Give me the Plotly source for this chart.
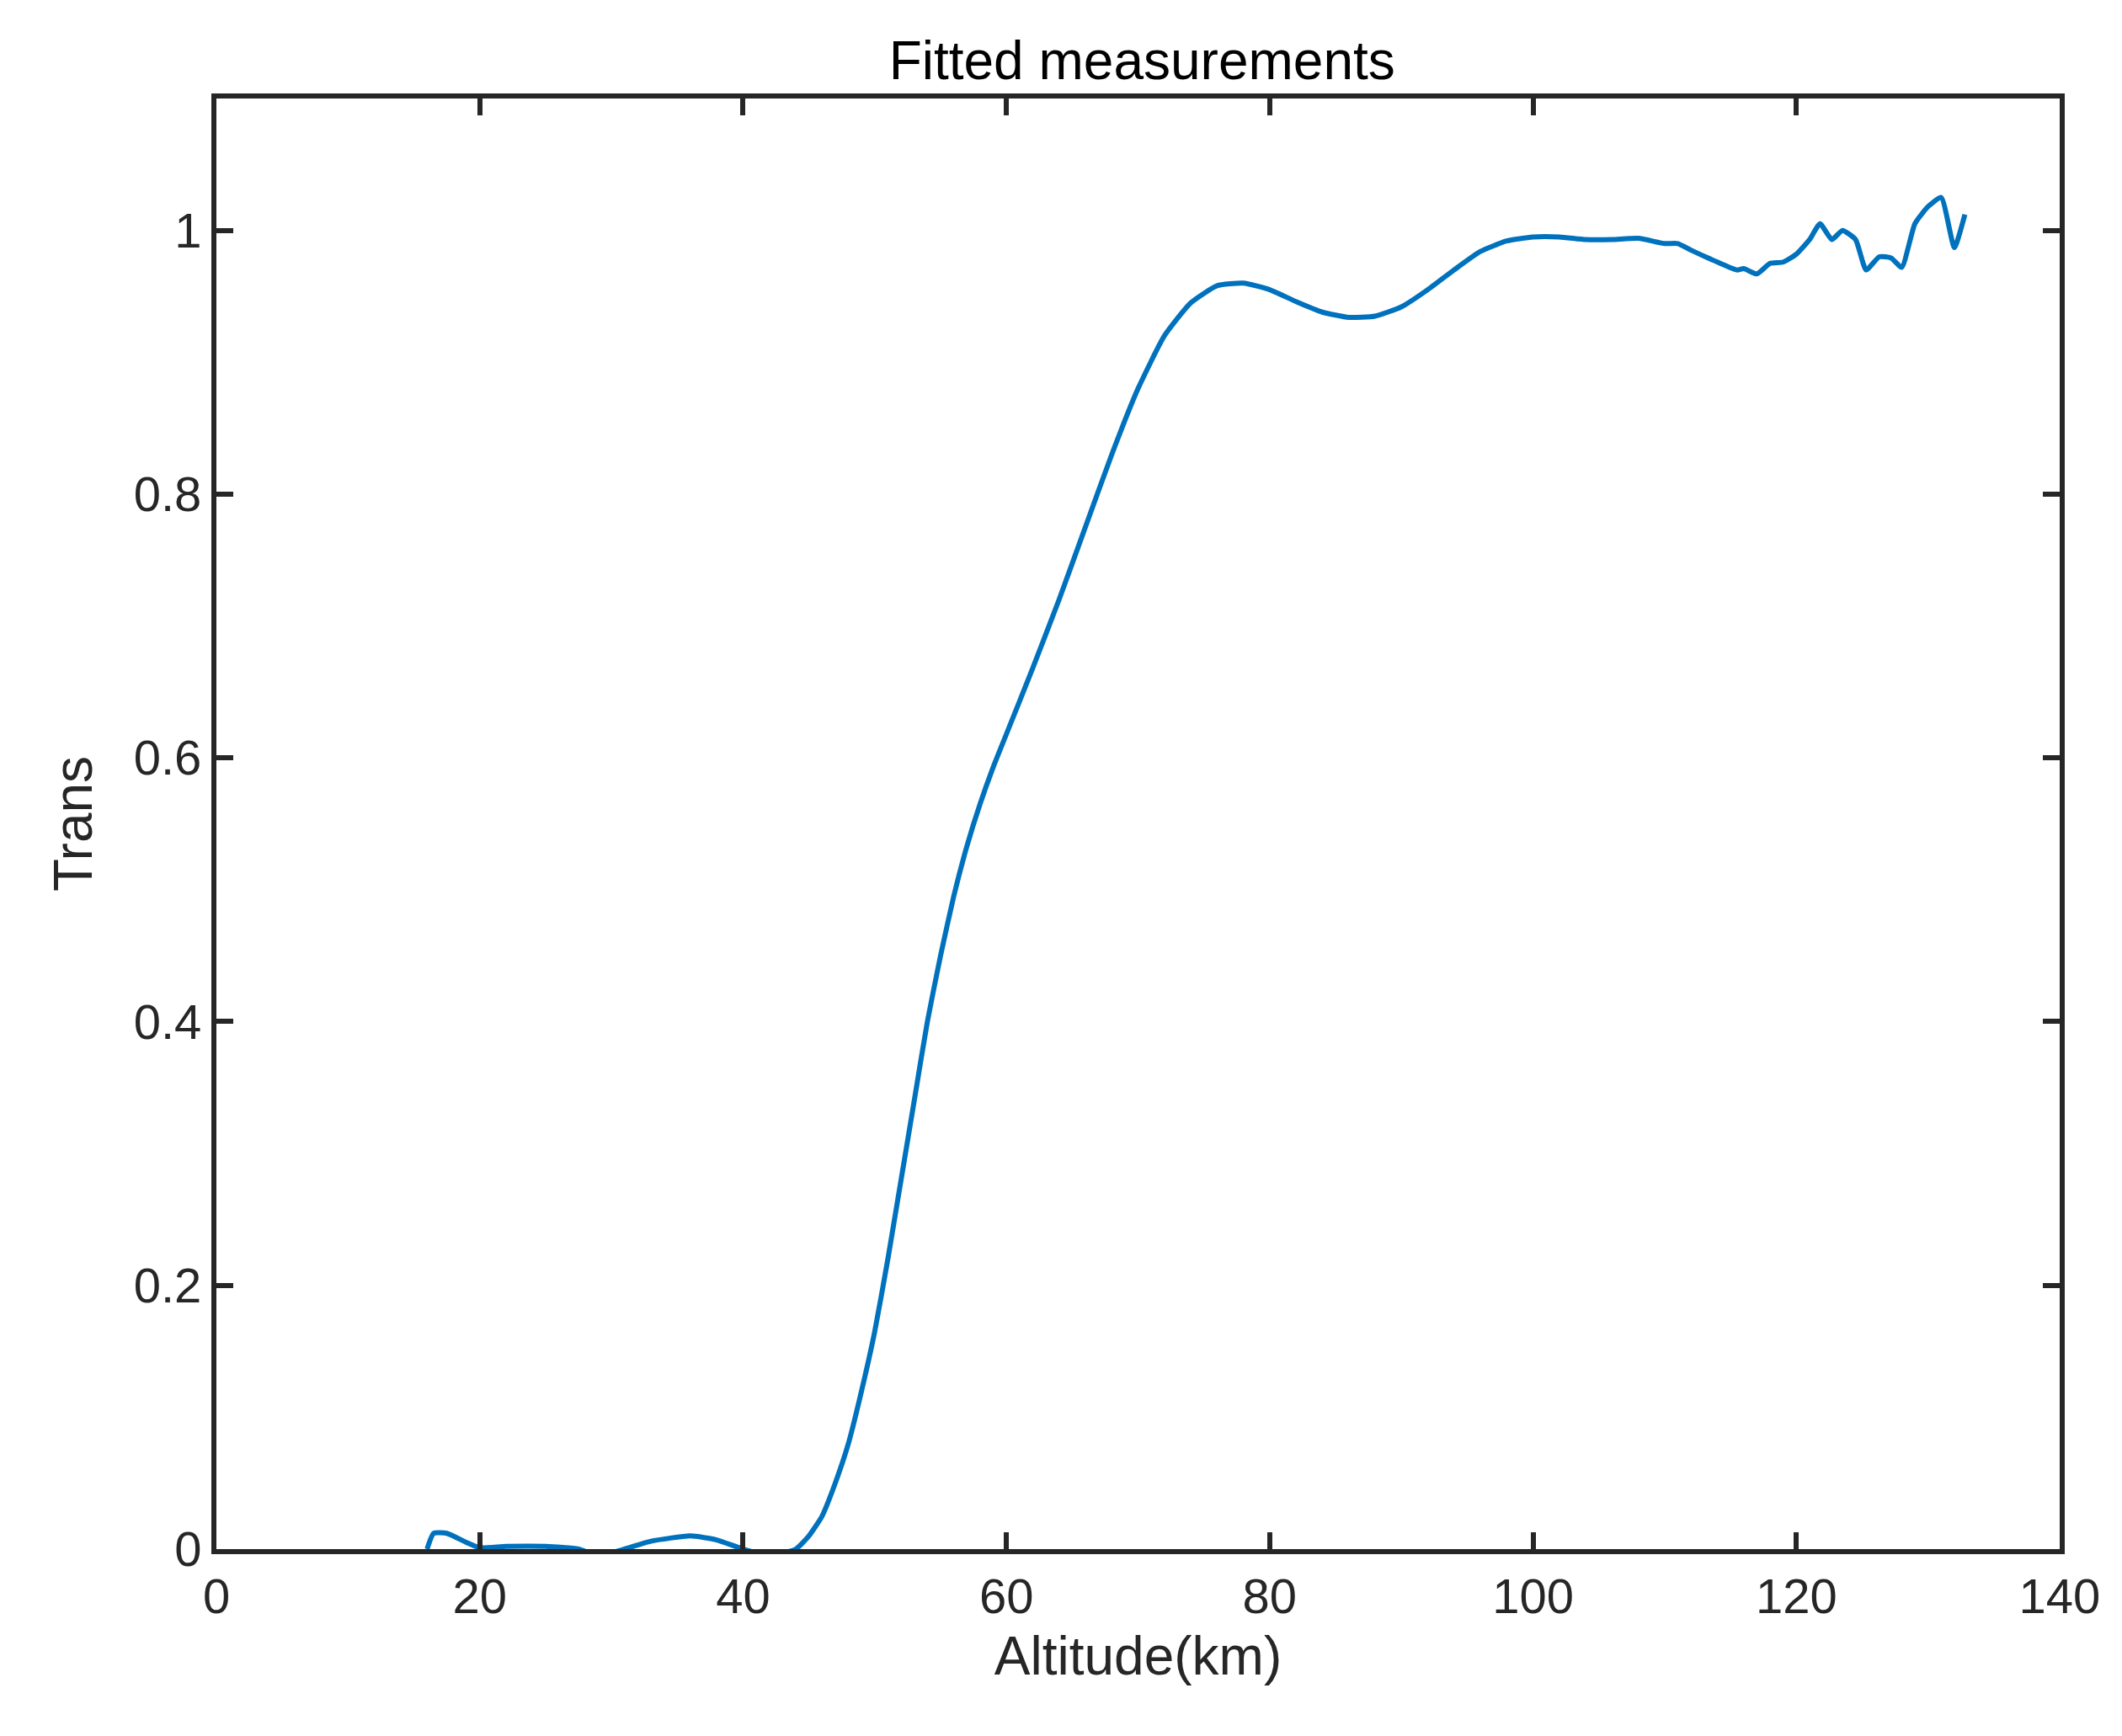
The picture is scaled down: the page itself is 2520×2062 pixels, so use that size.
import plotly.graph_objects as go

altitude = [16, 16.5, 17.5, 19, 20, 22, 25, 27.5, 29, 31, 33, 36, 38, 40, 42, 44, 45, 46, 47, 48, 49, 50, 51, 52, 53, 54, 55, 56, 57, 58, 59, 60, 62, 64, 66, 68, 70, 72, 74, 76, 78, 80, 82, 84, 86, 88, 90, 92, 94, 96, 98, 100, 102, 104, 106, 108, 110, 111, 112, 114, 115.5, 116, 117, 118, 119, 120, 121, 121.8, 122.7, 123.5, 124.5, 125.3, 126.3, 127.2, 128, 129, 130, 131, 132, 132.8]
trans = [0, 0.012, 0.012, 0.005, 0.001, 0.002, 0.002, 0, -0.005, 0, 0.006, 0.01, 0.007, 0, -0.005, 0, 0.01, 0.025, 0.05, 0.08, 0.12, 0.165, 0.22, 0.28, 0.34, 0.4, 0.45, 0.495, 0.533, 0.565, 0.593, 0.618, 0.668, 0.72, 0.775, 0.83, 0.88, 0.92, 0.945, 0.958, 0.96, 0.955, 0.946, 0.938, 0.934, 0.935, 0.942, 0.955, 0.97, 0.984, 0.992, 0.995, 0.995, 0.993, 0.993, 0.994, 0.99, 0.99, 0.985, 0.976, 0.97, 0.971, 0.967, 0.975, 0.976, 0.982, 0.993, 1.005, 0.993, 1.0, 0.993, 0.97, 0.98, 0.979, 0.972, 1.005, 1.018, 1.025, 0.987, 1.012]

xticks = [0, 20, 40, 60, 80, 100, 120, 140]
yticks = [0, 0.2, 0.4, 0.6, 0.8, 1]
ytick_text = ["0", "0.2", "0.4", "0.6", "0.8", "1"]

FONT = "Liberation Sans, Arial"
fig = go.Figure(go.Scatter(x=altitude, y=trans, mode="lines",
                           line=dict(color="#0072BD", width=6, shape="spline", smoothing=0.5)))
axis_common = dict(showline=True, linecolor="#262626", linewidth=6, mirror="ticks",
                   ticks="inside", ticklen=20, tickwidth=6, tickcolor="#262626",
                   showgrid=False, zeroline=False,
                   tickfont=dict(family=FONT, size=58, color="#262626"))
fig.update_xaxes(range=[0, 140], tickvals=xticks, title=dict(text="Altitude(km)", standoff=20,
                 font=dict(family=FONT, size=64, color="#262626")), **axis_common)
fig.update_yaxes(range=[0, 1.1], tickvals=yticks, ticktext=ytick_text, title=dict(text="Trans", standoff=30,
                 font=dict(family=FONT, size=64, color="#262626")), **axis_common)
fig.update_layout(
    width=2520, height=2062, plot_bgcolor="white", paper_bgcolor="white",
    margin=dict(l=249, r=82, t=109, b=230), showlegend=False,
    title=dict(text="Fitted measurements", x=0.535, xanchor="center", y=0.969, yanchor="middle",
               font=dict(family=FONT, size=64, color="black")),
)
fig.write_html("out.html")
